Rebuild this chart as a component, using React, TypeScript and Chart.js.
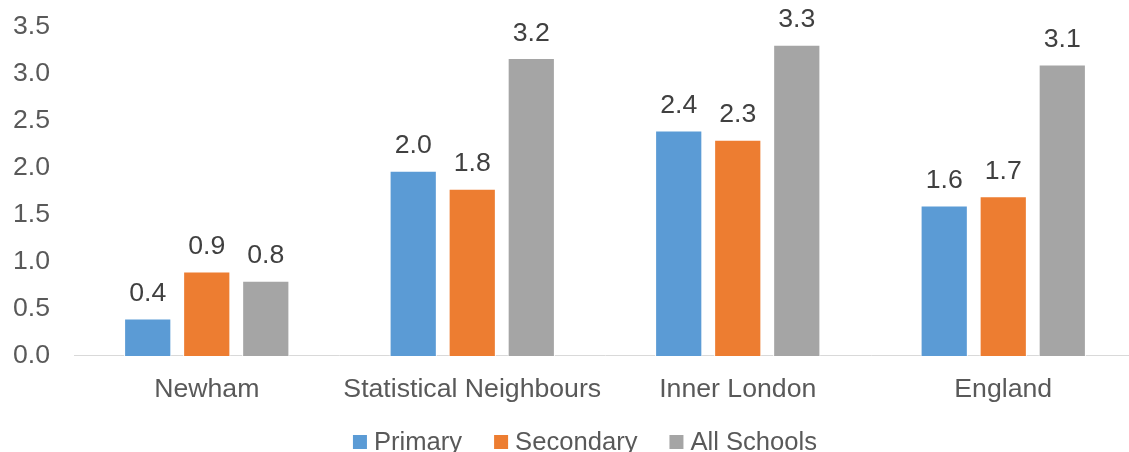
import React, { useEffect, useRef } from "react";
import { Chart, registerables } from "chart.js";

Chart.register(...registerables);

const categories = ["Newham", "Statistical Neighbours", "Inner London", "England"];
const seriesNames = ["Primary", "Secondary", "All Schools"];
const primary = [0.4, 1.97, 2.4, 1.6];
const secondary = [0.9, 1.78, 2.3, 1.7];
const allSchools = [0.8, 3.17, 3.31, 3.1];
const colors = ["#5B9BD5", "#ED7D31", "#A5A5A5"];
const yTicksMax = 3.5;
const yTicksStep = 0.5;

const FONT = "'Liberation Sans', Arial, sans-serif";
const FS = 26.67;
const LEGEND_FS = 25.6;
const SHIFT = 13;

const dataLabelPlugin = {
  id: "dataLabels",
  afterDatasetsDraw(chart: any) {
    const ctx = chart.ctx;
    ctx.save();
    ctx.font = `${FS}px ${FONT}`;
    ctx.fillStyle = "#404040";
    ctx.textAlign = "center";
    ctx.textBaseline = "alphabetic";
    chart.data.datasets.forEach((ds: any, i: number) => {
      const meta = chart.getDatasetMeta(i);
      meta.data.forEach((bar: any, j: number) => {
        const v = ds.data[j] as number;
        ctx.fillText(v.toFixed(1), bar.x, bar.y - 17.5);
      });
    });
    ctx.restore();
  },
};

const legendPlugin = {
  id: "customLegend",
  afterDraw(chart: any) {
    const ctx = chart.ctx;
    ctx.save();
    ctx.font = `${LEGEND_FS}px ${FONT}`;
    const box = 14;
    const gap = 7;
    const itemGap = 32;
    const widths = seriesNames.map((n) => ctx.measureText(n).width);
    const total = widths.reduce((a, w) => a + box + gap + w, 0) + itemGap * (seriesNames.length - 1);
    let x = 585 - total / 2;
    const baseline = 450 + SHIFT;
    seriesNames.forEach((n, i) => {
      ctx.fillStyle = colors[i];
      ctx.fillRect(x, baseline - 15, box, box);
      x += box + gap;
      ctx.fillStyle = "#595959";
      ctx.textAlign = "left";
      ctx.textBaseline = "alphabetic";
      ctx.fillText(n, x, baseline);
      x += widths[i] + itemGap;
    });
    ctx.restore();
  },
};

export default function App() {
  const ref = useRef<HTMLCanvasElement | null>(null);
  useEffect(() => {
    if (!ref.current) return;
    const chart = new Chart(ref.current, {
      type: "bar",
      data: {
        labels: categories,
        datasets: [primary, secondary, allSchools].map((d, i) => ({
          label: seriesNames[i],
          data: d,
          backgroundColor: colors[i],
          borderColor: "#FFFFFF",
          borderWidth: 1,
          categoryPercentage: 0.667,
          barPercentage: 0.8,
        })),
      },
      options: {
        animation: false,
        responsive: false,
        maintainAspectRatio: false,
        layout: { padding: { left: 14, right: 4, top: 11, bottom: 29 } },
        plugins: { legend: { display: false }, tooltip: { enabled: false } },
        scales: {
          x: {
            grid: { display: false, drawTicks: false },
            border: { display: true, color: "#D9D9D9", width: 1 },
            ticks: { color: "#595959", font: { family: FONT, size: FS }, padding: 18, maxRotation: 0, autoSkip: false },
          },
          y: {
            min: 0,
            max: yTicksMax,
            grid: { display: false, drawTicks: false },
            border: { display: false },
            afterFit: (scale: any) => {
              scale.width = 60;
            },
            ticks: {
              stepSize: yTicksStep,
              color: "#595959",
              font: { family: FONT, size: FS },
              padding: 24,
              callback: (v: any) => Number(v).toFixed(1),
            },
          },
        },
      },
      plugins: [dataLabelPlugin, legendPlugin],
    });
    return () => chart.destroy();
  }, []);
  return (
    <div style={{ position: "fixed", left: 0, top: 0, width: 1129, height: 452, overflow: "hidden", background: "#fff" }}>
      <canvas
        ref={ref}
        width={1140}
        height={452 + SHIFT + 1}
        style={{ display: "block", position: "absolute", left: 0, top: -SHIFT, width: 1140, height: 452 + SHIFT + 1 }}
      />
    </div>
  );
}
